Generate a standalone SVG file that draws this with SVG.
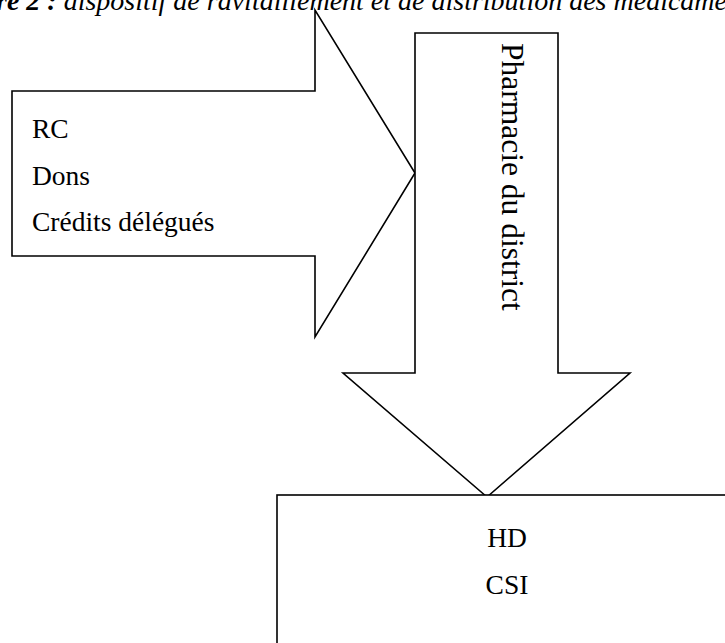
<svg xmlns="http://www.w3.org/2000/svg" width="725" height="643" viewBox="0 0 725 643">
<style>
.shape{fill:#fff;stroke:#000;stroke-width:1.6;stroke-linejoin:miter}
.t{font-family:"Liberation Serif","Times New Roman",serif;fill:#000}
</style>
<rect width="725" height="643" fill="#fff"/>
<g id="sources">
<polygon class="shape" points="12,91 315,91 315,10 415,173 315,337 315,256 12,256"/>
<text class="t" x="32" y="138" font-size="27.5">RC</text>
<text class="t" x="32" y="185" font-size="27.5">Dons</text>
<text class="t" x="32" y="231" font-size="27.5">Crédits délégués</text>
</g>
<g id="pharmacie">
<polygon class="shape" points="415,33 558,33 558,373 630,373 487,497 343,373 415,373"/>
<text class="t" font-size="31.5" transform="translate(502,43) rotate(90)">Pharmacie du district</text>
</g>
<g id="destinataires">
<rect class="shape" x="277" y="495" width="460" height="160"/>
<text class="t" x="507" y="547" font-size="27.5" text-anchor="middle">HD</text>
<text class="t" x="507" y="594" font-size="27.5" text-anchor="middle">CSI</text>
</g>
<g id="connectors"></g>
<text class="t" x="-4" y="10" font-size="28" font-style="italic"><tspan font-weight="bold">re 2 :</tspan> dispositif de ravitaillement et de distribution des médicamen</text>
</svg>
